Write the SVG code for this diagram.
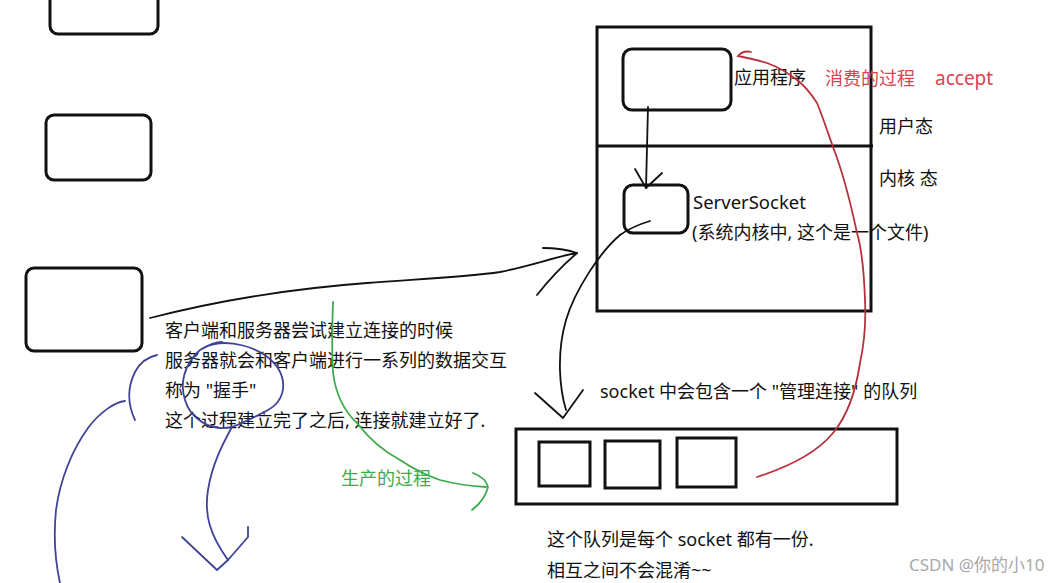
<svg xmlns="http://www.w3.org/2000/svg" width="1058" height="583" viewBox="0 0 1058 583">
<style>
.bx{fill:none;stroke:#111;stroke-width:3}
.ln{fill:none;stroke:#111;stroke-width:1.8;stroke-linecap:round;stroke-linejoin:round}
.red{fill:none;stroke:#b8303c;stroke-width:1.8;stroke-linecap:round}
.blue{fill:none;stroke:#3f4399;stroke-width:1.8;stroke-linecap:round;stroke-linejoin:round}
.green{fill:none;stroke:#3daa4c;stroke-width:1.8;stroke-linecap:round;stroke-linejoin:round}
text{font-family:"Noto Sans","Noto Sans CJK SC",sans-serif;font-size:18px;fill:#111}
.tr{fill:#d8434f}
.tg{fill:#3daa4c}
.wm{fill:#a8a8a8;font-size:17px}
</style>
<rect width="1058" height="583" fill="#fff"/>

<g id="client1"><rect class="bx" x="50" y="-30" width="108" height="64" rx="8"/></g>
<g id="client2"><rect class="bx" x="46" y="115" width="105" height="65" rx="8"/></g>
<g id="client3"><rect class="bx" x="26" y="268" width="116" height="83" rx="8"/></g>

<g id="server">
<rect class="bx" x="597" y="27" width="274" height="284"/>
<line class="bx" x1="597" y1="146" x2="873" y2="146"/>
<text x="879" y="133">用户态</text>
<text x="879" y="185">内核 态</text>
</g>

<g id="app">
<rect class="bx" x="623" y="49" width="108" height="61" rx="9"/>
<text x="734" y="84">应用程序</text>
</g>

<g id="serversocket">
<rect class="bx" x="624" y="185" width="64" height="48" rx="9"/>
<text x="693" y="209" style="font-size:18.5px">ServerSocket</text>
<text x="692" y="239">(系统内核中, 这个是一个文件)</text>
</g>

<g id="queue">
<rect class="bx" x="516" y="429" width="381" height="75"/>
<rect class="bx" x="539" y="442" width="51" height="44"/>
<rect class="bx" x="605" y="441" width="55" height="47"/>
<rect class="bx" x="677" y="438" width="59" height="49"/>
<text x="600" y="398">socket 中会包含一个 "管理连接" 的队列</text>
</g>

<g id="notes">
<text x="165" y="337">客户端和服务器尝试建立连接的时候</text>
<text x="165" y="367">服务器就会和客户端进行一系列的数据交互</text>
<text x="165" y="397">称为 "握手"</text>
<text x="165" y="427">这个过程建立完了之后, 连接就建立好了.</text>
<text x="547" y="546">这个队列是每个 socket 都有一份.</text>
<text x="547" y="577">相互之间不会混淆~~</text>
<text class="tr" x="825" y="85">消费的过程</text>
<text class="tr" x="935" y="85" style="font-size:19px">accept</text>
<text class="tg" x="341" y="485">生产的过程</text>
<text class="wm" x="909" y="571">CSDN @你的小10</text>
</g>

<g id="connectors">
<path class="ln" d="M150,318 C220,300 300,288 367,283 C420,279 467,277 500,272 C530,266 555,257 577,253"/>
<path class="ln" d="M543,248 Q562,248 577,253 Q555,272 537,295"/>
<path class="ln" d="M650,221 C640,224 630,228 620,235 C600,252 575,290 566,320 C556,355 560,390 566,410"/>
<path class="ln" d="M535,393 L563,418 L583,390"/>
<path class="ln" d="M648,107 L646,188"/>
<path class="ln" d="M635,169 L646,188 L662,173"/>
<path class="red" d="M757,477 C785,468 815,455 833,433 C848,415 856,390 860,363 C865,340 866,320 865,300 C864,270 862,250 857,233 C850,200 842,170 833,147 C827,130 822,115 817,103 C810,92 805,86 797,80 C787,72 778,67 767,63 C757,60 748,58 738,56 Q743,50 751,52"/>
<path class="green" d="M333,302 C332,330 332,355 333,373 C336,395 345,412 357,423 C370,440 385,452 400,460 C415,470 428,476 440,480 C455,484 470,486 486,487"/>
<path class="green" d="M473,473 Q486,478 488,487 Q485,500 472,510"/>
<path class="blue" d="M157,355 C148,357 140,362 135,372 C127,388 128,405 135,420"/>
<path class="blue" d="M125,401 C115,402 100,412 88,428 C72,450 60,480 56,510 C53,540 56,565 60,583"/>
<path class="blue" d="M205,347 C225,338 262,345 278,368 C288,385 283,402 268,410 C255,417 243,423 232,427 C210,432 190,418 185,400 C180,385 183,365 200,350 C210,344 218,342 222,342"/>
<path class="blue" d="M232,427 C222,445 212,465 208,490 C204,515 210,535 228,560"/>
<path class="blue" d="M182,537 L217,570 L228,560 L248,537 L248,527"/>
</g>
</svg>
